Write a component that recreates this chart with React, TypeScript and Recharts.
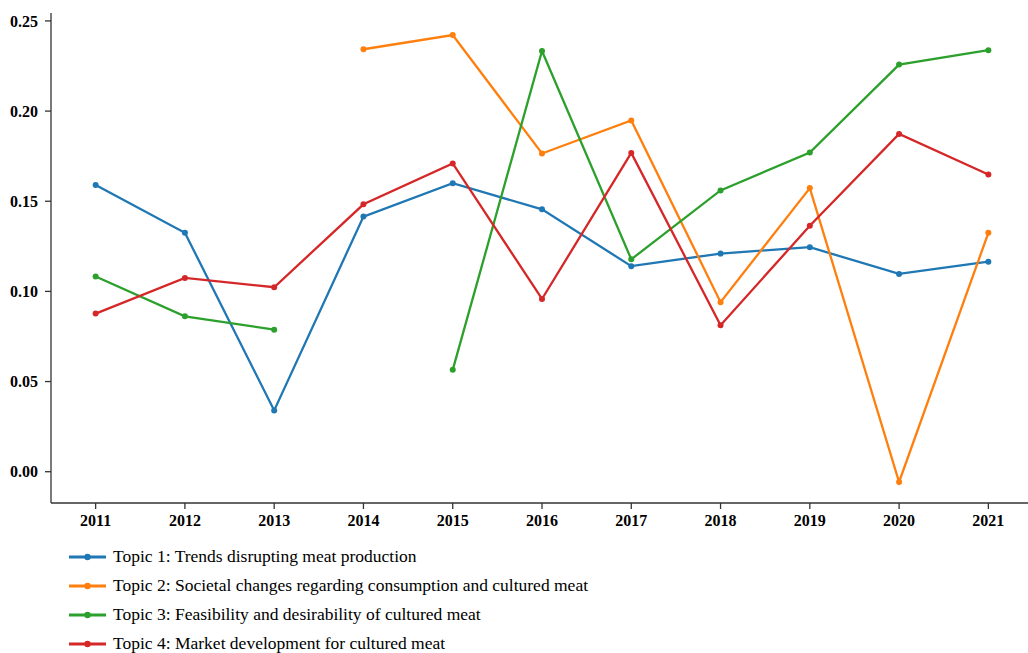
import { LineChart, Line, XAxis, YAxis } from "recharts";

const years = [2011, 2012, 2013, 2014, 2015, 2016, 2017, 2018, 2019, 2020, 2021];
const topic1 = [0.159, 0.1325, 0.034, 0.1415, 0.16, 0.1455, 0.114, 0.121, 0.1245, 0.1097, 0.1165];
const topic2 = [null, null, null, 0.2343, 0.2422, 0.1765, 0.1948, 0.094, 0.1573, -0.0057, 0.1325];
const topic3 = [0.1083, 0.0862, 0.0788, null, 0.0565, 0.2333, 0.1178, 0.156, 0.177, 0.2258, 0.2338];
const topic4 = [0.0877, 0.1075, 0.1023, 0.1483, 0.171, 0.0958, 0.1768, 0.0812, 0.1364, 0.1873, 0.1648];
const yTicks = [0, 0.05, 0.1, 0.15, 0.2, 0.25];

const series = [
  { key: "t1", name: "Topic 1: Trends disrupting meat production", color: "#1f77b4", values: topic1 },
  { key: "t2", name: "Topic 2: Societal changes regarding consumption and cultured meat", color: "#ff7f0e", values: topic2 },
  { key: "t3", name: "Topic 3: Feasibility and desirability of cultured meat", color: "#2ca02c", values: topic3 },
  { key: "t4", name: "Topic 4: Market development for cultured meat", color: "#d62728", values: topic4 },
];

const data = years.map((year, i) => {
  const row: Record<string, number | null> = { year };
  series.forEach((s) => {
    row[s.key] = s.values[i];
  });
  return row;
});

const tickStyle = { fontFamily: "Liberation Serif", fontSize: 16, fontWeight: 700, fill: "#000" };

export default function App() {
  return (
    <div
      style={{
        position: "fixed",
        left: 0,
        top: 0,
        width: 1028,
        height: 653,
        overflow: "hidden",
        background: "#fff",
      }}
    >
      <LineChart
        width={1040}
        height={540}
        data={data}
        margin={{ top: 13, right: 7, left: 0, bottom: 0 }}
      >
        <XAxis
          dataKey="year"
          type="number"
          domain={[2010.5, 2021.5]}
          ticks={years}
          allowDataOverflow
          tick={tickStyle}
          tickSize={6}
          tickMargin={6}
          height={37}
          stroke="#333"
          strokeWidth={1.3}
          tickLine={{ stroke: "#333" }}
        />
        <XAxis
          xAxisId="top"
          dataKey="year"
          type="number"
          orientation="top"
          domain={[2010.5, 2021.5]}
          tick={false}
          tickLine={false}
          height={0}
          stroke="#333"
          strokeWidth={1.3}
        />
        <YAxis
          type="number"
          domain={[-0.01735, 0.2544]}
          ticks={yTicks}
          allowDataOverflow
          tickFormatter={(v: number) => v.toFixed(2)}
          tick={tickStyle}
          tickSize={6}
          tickMargin={7}
          width={51}
          stroke="#333"
          strokeWidth={1.3}
          tickLine={{ stroke: "#333" }}
        />
        {series.map((s) => (
          <Line
            key={s.key}
            dataKey={s.key}
            name={s.name}
            stroke={s.color}
            strokeWidth={2.3}
            dot={{ r: 3, fill: s.color, stroke: s.color, strokeWidth: 0 }}
            activeDot={false}
            connectNulls={false}
            isAnimationActive={false}
          />
        ))}
      </LineChart>
      <div style={{ position: "absolute", left: 69, top: 542, fontFamily: "'Liberation Serif'" }}>
        {series.map((s) => (
          <div
            key={s.key}
            style={{ display: "flex", alignItems: "center", height: 29, fontSize: 17.5, color: "#000" }}
          >
            <svg width={37} height={10} style={{ marginRight: 7 }}>
              <line x1={0} y1={5} x2={37} y2={5} stroke={s.color} strokeWidth={3} />
              <circle cx={18.5} cy={5} r={3.2} fill={s.color} />
            </svg>
            <span>{s.name}</span>
          </div>
        ))}
      </div>
    </div>
  );
}
